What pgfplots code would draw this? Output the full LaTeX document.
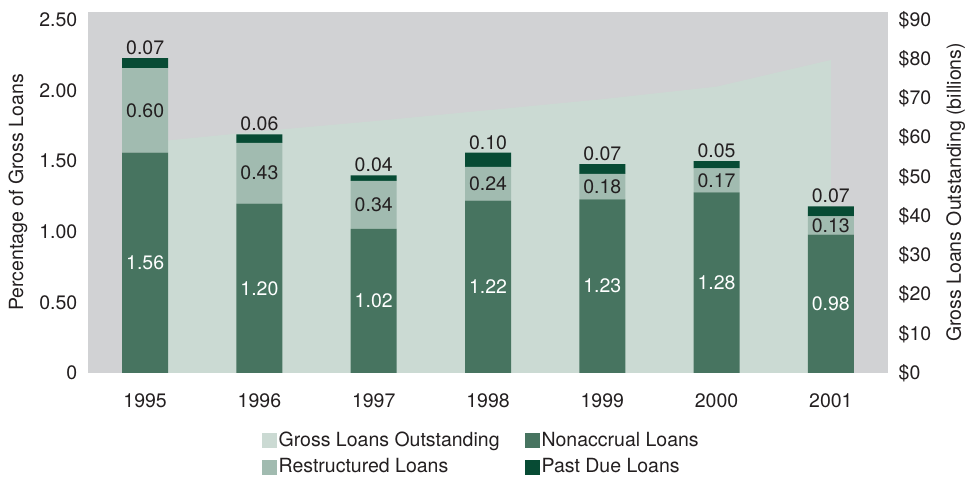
\documentclass[border=0pt]{standalone}
\usepackage{fontspec}
\setmainfont{TeX Gyre Heros}
\usepackage{pgfplots}
\pgfplotsset{compat=1.18}
\definecolor{bgc}{HTML}{D1D2D4}
\definecolor{areac}{HTML}{CBDAD3}
\definecolor{nonac}{HTML}{477460}
\definecolor{restc}{HTML}{A1BBB0}
\definecolor{pastc}{HTML}{074B34}
\definecolor{txt}{HTML}{231F20}
\begin{document}
\fontsize{19.5bp}{23bp}\selectfont
\begin{tikzpicture}
\pgfplotsset{
  common/.style={scale only axis, width=800bp, height=361bp, at={(88bp,104bp)}, anchor=south west,
    xmin=-0.5, xmax=6.5, axis line style={draw=none}, tick style={draw=none}, major tick length=0pt,
    /pgf/number format/assume math mode=true, ticklabel style={text=txt}, label style={text=txt}},
  sq/.style={legend image code/.code={\fill[##1] (-6bp,-7.5bp) rectangle (9bp,7.5bp);}},
}
\begin{axis}[common, axis background/.style={fill=bgc}, ymin=0, ymax=92.04,
  ytick={0,10,20,30,40,50,60,70,80,90},
  yticklabels={\$0,\$10,\$20,\$30,\$40,\$50,\$60,\$70,\$80,\$90},
  yticklabel pos=right, yticklabel style={xshift=4bp}, xtick=\empty,
  ylabel={Gross Loans Outstanding (billions)},
  ylabel style={at={(axis description cs:1.0845,0.5)}, anchor=center, rotate=0}]
\addplot[fill=areac, draw=none] coordinates {(0,58.7) (1,61.6) (2,64.2) (3,67.0) (4,69.8) (5,73.0) (6,79.8)} \closedcycle;
\end{axis}
\begin{axis}[common, ybar stacked, bar width=46bp, ymin=0, ymax=2.5567,
  ytick={0,0.5,1,1.5,2,2.5}, yticklabels={0,0.50,1.00,1.50,2.00,2.50},
  yticklabel style={xshift=-4bp},
  xtick={0,1,2,3,4,5,6}, xticklabels={1995,1996,1997,1998,1999,2000,2001},
  xticklabel style={yshift=-14bp},
  ylabel={Percentage of Gross Loans},
  ylabel style={at={(axis description cs:-0.0875,0.5)}, anchor=center},
  legend style={at={(0.4915,-0.152)}, anchor=north, draw=none, fill=none, text=txt,
    legend columns=2, /tikz/every even column/.append style={column sep=23bp}, row sep=5bp},
  legend cell align=left]
\addlegendimage{fill=areac, draw=none, sq}
\addlegendentry{Gross Loans Outstanding}
\addplot[fill=nonac, draw=none, sq, point meta=explicit,
  nodes near coords={\pgfmathprintnumber[fixed,fixed zerofill,precision=2]{\pgfplotspointmeta}},
  every node near coord/.append style={text=white, anchor=center}]
  coordinates {(0,1.56)[1.56] (1,1.20)[1.20] (2,1.02)[1.02] (3,1.22)[1.22] (4,1.23)[1.23] (5,1.28)[1.28] (6,0.98)[0.98]};
\addlegendentry{Nonaccrual Loans}
\addplot[fill=restc, draw=none, sq, point meta=explicit,
  nodes near coords={\pgfmathprintnumber[fixed,fixed zerofill,precision=2]{\pgfplotspointmeta}},
  every node near coord/.append style={text=txt, anchor=center}]
  coordinates {(0,0.60)[0.60] (1,0.43)[0.43] (2,0.34)[0.34] (3,0.24)[0.24] (4,0.18)[0.18] (5,0.17)[0.17] (6,0.13)[0.13]};
\addlegendentry{Restructured Loans}
\addplot[fill=pastc, draw=none, sq, point meta=explicit,
  visualization depends on={rawy \as \rawy},
  nodes near coords={\pgfmathprintnumber[fixed,fixed zerofill,precision=2]{\pgfplotspointmeta}},
  every node near coord/.append style={text=txt, anchor=south, inner sep=2bp, yshift={0.5*\rawy*141.2bp+1bp}}]
  coordinates {(0,0.07)[0.07] (1,0.06)[0.06] (2,0.04)[0.04] (3,0.10)[0.10] (4,0.07)[0.07] (5,0.05)[0.05] (6,0.07)[0.07]};
\addlegendentry{Past Due Loans}
\end{axis}
\pgfresetboundingbox
\useasboundingbox (0,0) rectangle (978bp,477bp);
\end{tikzpicture}
\end{document}
